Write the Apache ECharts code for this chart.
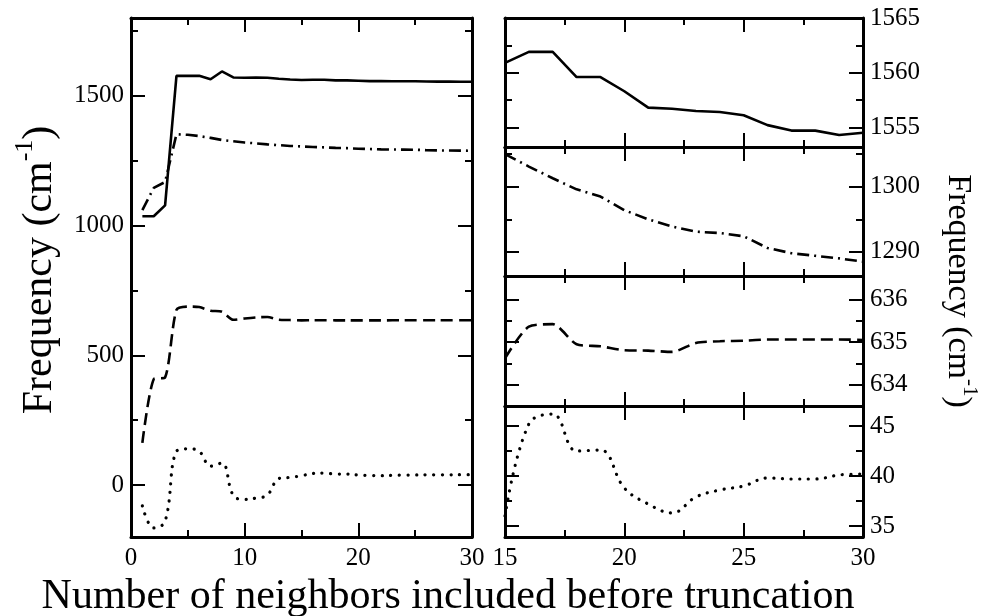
<!DOCTYPE html>
<html>
<head>
<meta charset="utf-8">
<script src="https://cdn.jsdelivr.net/npm/echarts@6/dist/echarts.min.js"></script>
<style>
  html, body { margin: 0; padding: 0; background: #fff; }
  #chart { width: 984px; height: 616px; }
</style>
</head>
<body>
<div id="chart"></div>
<script>
// Number of neighbours kept before the sum is truncated
const neighbors = [1, 2, 3, 4, 5, 6, 7, 8, 9, 10, 11, 12, 13, 14, 15,
  16, 17, 18, 19, 20, 21, 22, 23, 24, 25, 26, 27, 28, 29, 30];

// Mode frequencies (cm^-1), one array per mode
const modeSolid = [1036, 1036, 1078, 1577, 1577, 1577, 1564, 1594, 1571, 1570,
  1571, 1570, 1566, 1563, 1560.9, 1561.9, 1561.9, 1559.6, 1559.6, 1558.3,
  1556.8, 1556.7, 1556.5, 1556.4, 1556.1, 1555.2, 1554.7, 1554.7, 1554.3, 1554.5];
const modeDashDot = [1060, 1145, 1168, 1352, 1350, 1345, 1338, 1330, 1325, 1320,
  1317, 1313, 1310, 1307, 1305.0, 1303.1, 1301.3, 1299.6, 1298.5, 1296.4,
  1295.0, 1293.9, 1293.1, 1292.9, 1292.4, 1290.6, 1289.8, 1289.4, 1289.0, 1288.5];
const modeDashed = [163, 408, 415, 675, 688, 686, 672, 668, 637, 642,
  646, 648, 637, 636, 634.62, 635.36, 635.42, 634.95, 634.9, 634.81,
  634.8, 634.77, 634.98, 635.02, 635.03, 635.06, 635.06, 635.06, 635.06, 635.05];
const modeDotted = [-80, -165, -140, 130, 140, 130, 73, 85, -40, -55,
  -50, -38, 25, 30, 36, 45.2, 46.2, 42.5, 42.6, 38.8,
  37.2, 36.3, 37.9, 38.6, 39.0, 39.8, 39.7, 39.7, 40.1, 40.2];

// Tick labels
const leftYTicks = [0, 500, 1000, 1500];
const leftXTicks = [0, 10, 20, 30];
const rightXTicks = [15, 20, 25, 30];
const panelYTicks = [[1555, 1560, 1565], [1290, 1300], [634, 635, 636], [35, 40, 45]];

const FONT = '"Liberation Serif", "Times New Roman", serif';
const INK = '#000';

const leftYMinor = [250, 750, 1250, 1750];
const panelYMinor = [[1557.5, 1562.5], [1295, 1305], [634.5, 635.5], [37.5, 42.5]];
const panelRange = [[1553.2, 1565], [1286.3, 1306.1], [633.5, 636.55], [33.9, 47.0]];

const frame = { show: true, onZero: false, lineStyle: { color: INK, width: 3 } };
const labelStyle = { color: INK, fontFamily: FONT, fontSize: 25, formatter: v => String(v) };

const grids = [{ left: 131, top: 18, width: 341, height: 519 }];
const panelTops = [18, 147, 276, 406];
const panelHeights = [129, 129, 130, 131];
panelTops.forEach((t, i) => grids.push({ left: 505, top: t, width: 358, height: panelHeights[i] }));

const xAxes = [];
const yAxes = [];

function addXAxes(gi, min, max, step, labels) {
  ['bottom', 'top'].forEach(pos => {
    xAxes.push({
      type: 'value', gridIndex: gi, position: pos, min: min, max: max, interval: step,
      axisLine: frame,
      axisTick: { show: true, inside: true, length: 14, lineStyle: { color: INK, width: 2 } },
      minorTick: { show: true, splitNumber: 2, length: 7, lineStyle: { color: INK, width: 2 } },
      axisLabel: Object.assign({}, labelStyle, { show: pos === 'bottom' && !!labels, margin: 9,
        customValues: labels || undefined }),
      splitLine: { show: false }, minorSplitLine: { show: false }
    });
  });
}

function addYAxes(gi, min, max, majors, minors, labelSide) {
  const first = yAxes.length;
  ['left', 'right'].forEach(pos => {
    yAxes.push({
      type: 'value', gridIndex: gi, position: pos, min: min, max: max,
      axisLine: frame,
      axisTick: { show: true, inside: true, length: 14, customValues: majors,
        lineStyle: { color: INK, width: 2 } },
      axisLabel: Object.assign({}, labelStyle, { show: pos === labelSide, margin: 7, customValues: majors }),
      splitLine: { show: false }
    });
    yAxes.push({
      type: 'value', gridIndex: gi, position: pos, min: min, max: max,
      axisLine: { show: false, onZero: false },
      axisTick: { show: true, inside: true, length: 7, customValues: minors,
        lineStyle: { color: INK, width: 2 } },
      axisLabel: { show: false },
      splitLine: { show: false }
    });
  });
  return first;
}

// Full range on the left
addXAxes(0, 0, 30, 10, leftXTicks);
const leftY = addYAxes(0, -200, 1800, leftYTicks, leftYMinor, 'left');

// Four close-up panels on the right, 15 to 30 neighbours
const panelY = [];
for (let i = 0; i < 4; i++) {
  addXAxes(i + 1, 15, 30, 5, i === 3 ? rightXTicks : null);
  panelY.push(addYAxes(i + 1, panelRange[i][0], panelRange[i][1], panelYTicks[i], panelYMinor[i], 'right'));
}

const styles = [
  { values: modeSolid, type: 'solid', cap: 'butt', smooth: false },
  { values: modeDashDot, type: [12, 5, 2, 5], cap: 'butt', smooth: false },
  { values: modeDashed, type: [12, 6], cap: 'butt', smooth: 0.25 },
  { values: modeDotted, type: [0.1, 8.5], cap: 'round', smooth: 0.4 }
];

function pairs(values, fromX) {
  const out = [];
  neighbors.forEach((n, i) => { if (n >= fromX) out.push([n, values[i]]); });
  return out;
}

const series = [];
styles.forEach((s, i) => {
  const ls = { color: INK, width: i === 3 ? 3.2 : 2.6, type: s.type, cap: s.cap };
  series.push({
    type: 'line', xAxisIndex: 0, yAxisIndex: leftY, data: pairs(s.values, 1),
    showSymbol: false, smooth: s.smooth, lineStyle: ls, animation: false, silent: true
  });
  series.push({
    type: 'line', xAxisIndex: 2 * (i + 1), yAxisIndex: panelY[i], data: pairs(s.values, 15),
    showSymbol: false, smooth: s.smooth, lineStyle: ls, animation: false, silent: true
  });
});

function titleRich(size) {
  return {
    n: { fontFamily: FONT, fontSize: size, color: INK, lineHeight: Math.round(size * 1.3) },
    s: { fontFamily: FONT, fontSize: Math.round(size * 0.62), color: INK, verticalAlign: 'top',
      lineHeight: Math.round(size * 0.62) }
  };
}
const freqTitle = '{n|Frequency (cm}{s|-1}{n|)}';

const chart = echarts.init(document.getElementById('chart'), null, { renderer: 'canvas' });
chart.setOption({
  backgroundColor: '#fff',
  animation: false,
  grid: grids,
  xAxis: xAxes,
  yAxis: yAxes,
  series: series,
  graphic: [
    {
      type: 'text', x: 448, y: 597,
      style: { text: 'Number of neighbors included before truncation', fontFamily: FONT,
        fontSize: 42, fill: INK, align: 'center', verticalAlign: 'middle' }
    },
    {
      type: 'text', x: 40, y: 270, rotation: Math.PI / 2,
      style: { text: freqTitle, rich: titleRich(42), align: 'center', verticalAlign: 'middle' }
    },
    {
      type: 'text', x: 958, y: 291, rotation: -Math.PI / 2,
      style: { text: freqTitle, rich: titleRich(34), align: 'center', verticalAlign: 'middle' }
    }
  ]
});
</script>
</body>
</html>
